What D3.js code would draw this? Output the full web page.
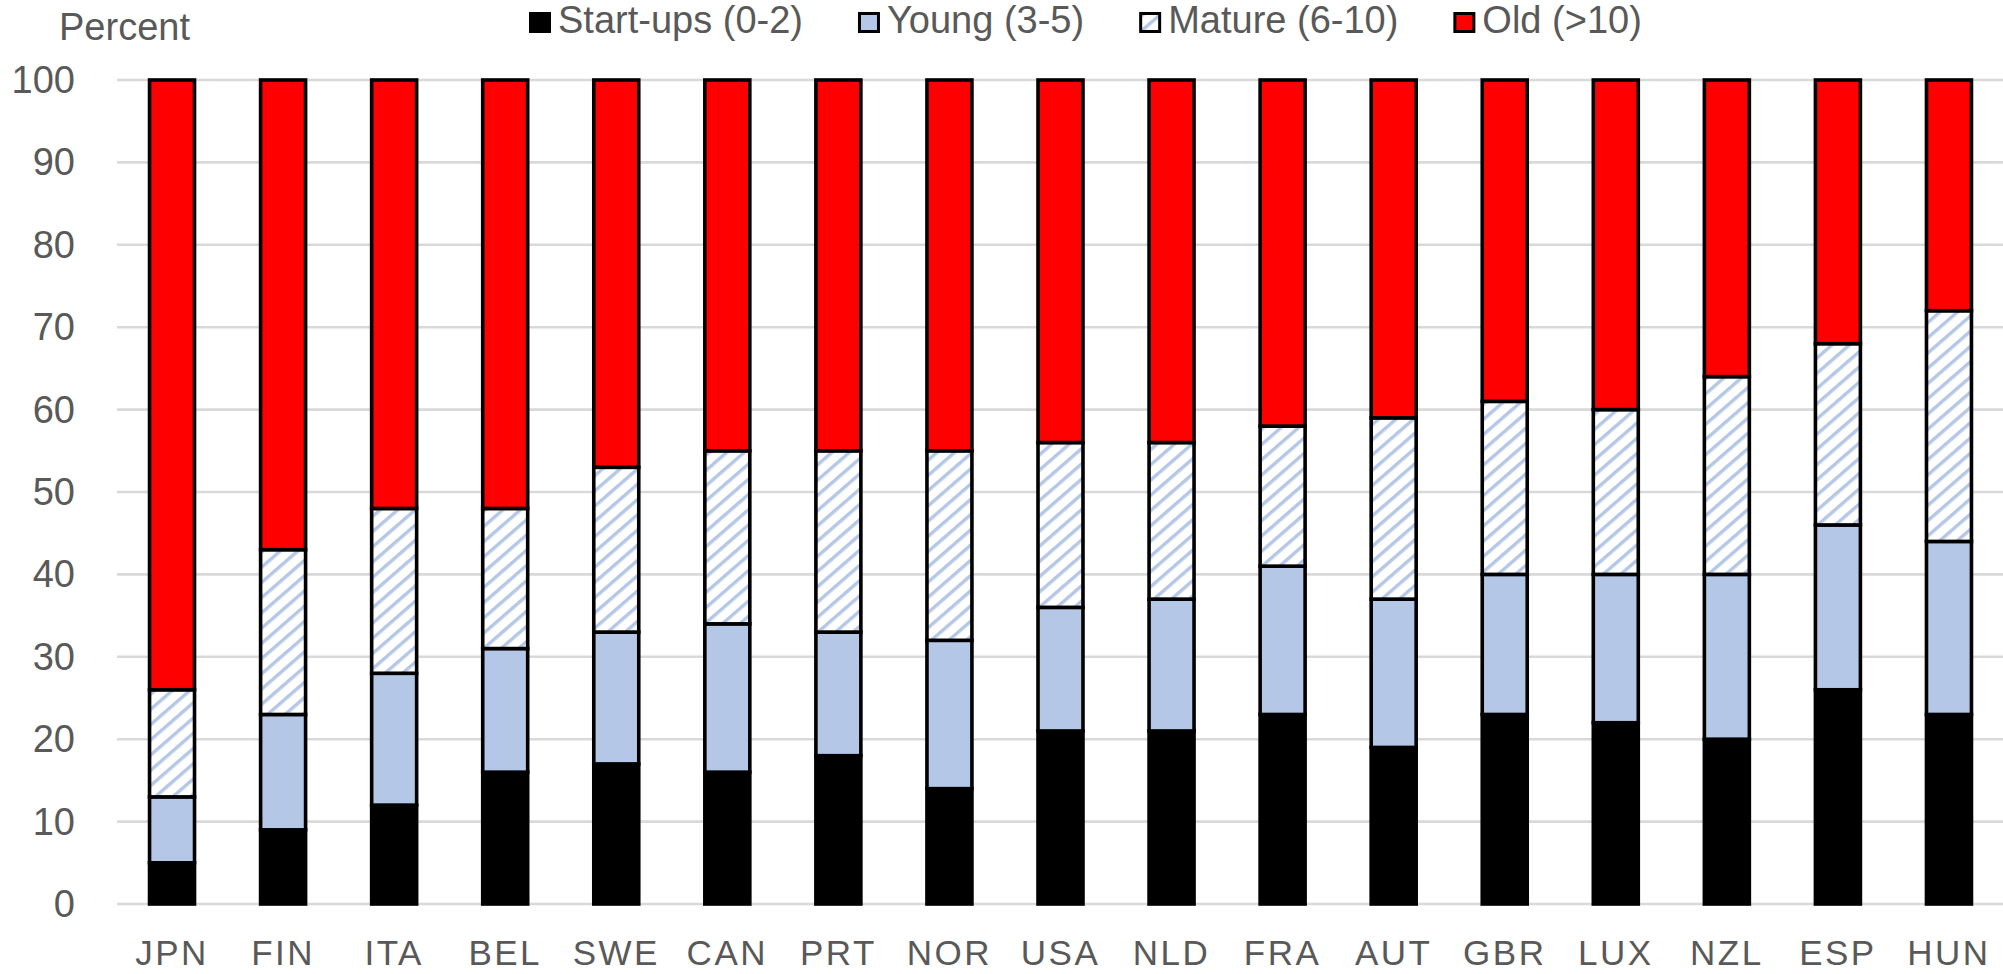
<!DOCTYPE html>
<html><head><meta charset="utf-8">
<script src="https://cdn.jsdelivr.net/npm/d3@7"></script>
<style>body{margin:0;background:#fff}svg{display:block}</style>
</head><body>
<svg id="chart" width="2003" height="974"></svg>
<script>
const countries = ["JPN","FIN","ITA","BEL","SWE","CAN","PRT","NOR","USA","NLD","FRA","AUT","GBR","LUX","NZL","ESP","HUN"];
const startups = [5,9,12,16,17,16,18,14,21,21,23,19,23,22,20,26,23];
const young    = [8,14,16,15,16,18,15,18,15,16,18,18,17,18,20,20,21];
const mature   = [13,20,20,17,20,21,22,23,20,19,17,22,21,20,24,22,28];
const old      = [74,57,52,52,47,45,45,45,44,44,42,41,39,40,36,32,28];
const seriesKeys = ["startups","young","mature","old"];
const seriesNames = ["Start-ups (0-2)","Young (3-5)","Mature (6-10)","Old (>10)"];
const yTicks = [0,10,20,30,40,50,60,70,80,90,100];
const yTitle = "Percent";

const svg = d3.select("#chart");
const fontMain = "'Liberation Sans', Arial, sans-serif";
const textColor = "#595959";

const table = countries.map((c,i)=>({country:c, startups:startups[i], young:young[i], mature:mature[i], old:old[i]}));
const stacked = d3.stack().keys(seriesKeys)(table);

const x = d3.scaleBand().domain(countries).range([116.5, 2004.5]).paddingInner(0.595).paddingOuter(0.2975);
const y = d3.scaleLinear().domain([0,100]).range([904, 80]);

const defs = svg.append("defs");
const pat = defs.append("pattern").attr("id","hatch").attr("patternUnits","userSpaceOnUse")
  .attr("width",11.5).attr("height",11.5).attr("patternTransform","rotate(-41)");
pat.append("rect").attr("width",11.5).attr("height",11.5).attr("fill","#ffffff");
pat.append("rect").attr("width",11.5).attr("height",3.4).attr("fill","#b4c7e7");

const fills = {startups:"#000000", young:"#b4c7e7", mature:"url(#hatch)", old:"#ff0000"};

// gridlines
svg.append("g").selectAll("line").data(yTicks).join("line")
  .attr("x1",117).attr("x2",2003).attr("y1",d=>y(d)).attr("y2",d=>y(d))
  .attr("stroke","#d9d9d9").attr("stroke-width",2.6);

// y axis labels
const yAxis = svg.append("g").attr("transform","translate(117,0)")
  .call(d3.axisLeft(y).tickValues(yTicks).tickSize(0).tickPadding(42));
yAxis.select(".domain").remove();
yAxis.selectAll("text").attr("font-family",fontMain).attr("font-size",38).attr("fill",textColor).attr("dy","0.33em");

// x axis labels
const xAxis = svg.append("g").attr("transform","translate(0,904)")
  .call(d3.axisBottom(x).tickSize(0).tickPadding(36));
xAxis.select(".domain").remove();
xAxis.selectAll("text").attr("font-family",fontMain).attr("font-size",35).attr("fill",textColor).attr("letter-spacing","2.5px");

// bars
svg.append("g").selectAll("g").data(stacked).join("g")
  .attr("fill",d=>fills[d.key])
  .selectAll("rect").data(d=>d).join("rect")
  .attr("x",d=>x(d.data.country)).attr("width",x.bandwidth())
  .attr("y",d=>y(d[1])).attr("height",d=>y(d[0])-y(d[1]))
  .attr("stroke","#000").attr("stroke-width",3.6);

// title
svg.append("text").attr("x",59).attr("y",40).text(yTitle)
  .attr("font-family",fontMain).attr("font-size",38).attr("fill",textColor);

// legend
const legend = svg.append("g");
let lx = 529;
seriesKeys.forEach((k,i)=>{
  legend.append("rect").attr("x",lx+1.5).attr("y",13.5).attr("width",19).attr("height",18)
    .attr("fill",fills[k]).attr("stroke","#000").attr("stroke-width",3);
  const t = legend.append("text").attr("x",lx+29).attr("y",33).text(seriesNames[i])
    .attr("font-family",fontMain).attr("font-size",38).attr("fill",textColor);
  lx += 29 + t.node().getComputedTextLength() + 55;
});
</script>
</body></html>
